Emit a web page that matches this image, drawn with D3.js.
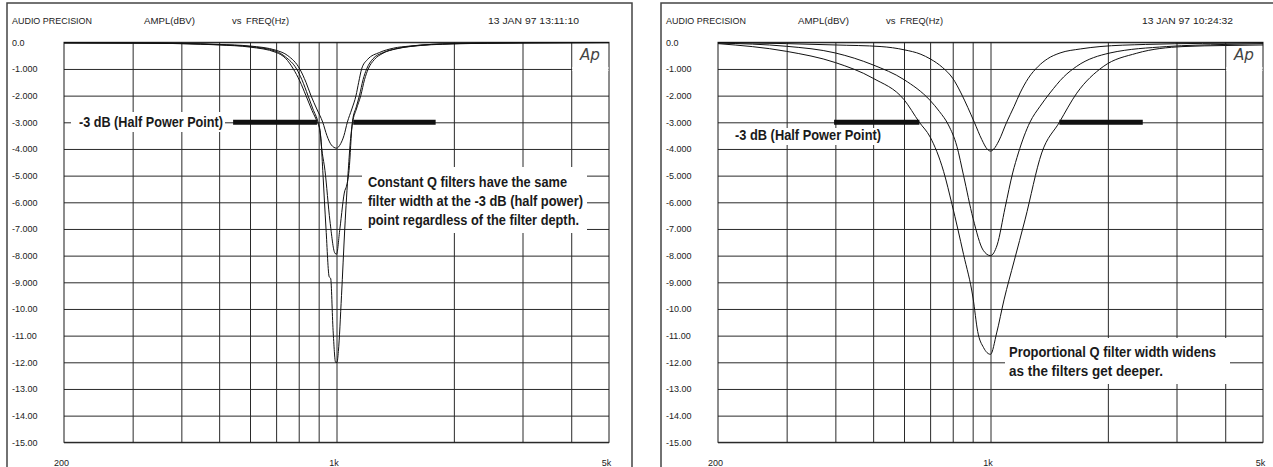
<!DOCTYPE html>
<html>
<head>
<meta charset="utf-8">
<script src="https://cdn.jsdelivr.net/npm/d3@7/dist/d3.min.js"></script>
<style>
  body { margin: 0; background: #fff; }
  svg { display: block; font-family: "Liberation Sans", Arial, sans-serif; }
</style>
</head>
<body>
<svg id="chart"></svg>
<script>
// axis ticks
const freqGrid = [300, 400, 500, 600, 700, 800, 900, 1000, 2000, 3000, 4000]
const freqLabels = [200, 1000, 5000]
const freqLabelText = ["200", "1k", "5k"]
const dbTicks = [0, -1, -2, -3, -4, -5, -6, -7, -8, -9, -10, -11, -12, -13, -14, -15]
const dbLabels = ["0.0", "-1.000", "-2.000", "-3.000", "-4.000", "-5.000", "-6.000", "-7.000",
  "-8.000", "-9.000", "-10.00", "-11.00", "-12.00", "-13.00", "-14.00", "-15.00"]

// constant Q sweeps [Hz, dBV]
const constQ4 = [[200,-0.02],[300,-0.02],[400,-0.04],[500,-0.08],[600,-0.14],[700,-0.3],[750,-0.5],[805,-1.0],[835,-1.5],[860,-2.0],[890,-2.5],[922,-3.0],[945,-3.5],[970,-3.85],[1000,-3.97],[1025,-3.8],[1045,-3.5],[1066,-3.0],[1095,-2.5],[1122,-2.0],[1140,-1.5],[1160,-1.0],[1200,-0.65],[1290,-0.38],[1400,-0.22],[1544,-0.14],[1990,-0.05],[3000,-0.02],[5000,-0.01]]
const constQ8 = [[200,-0.02],[300,-0.03],[400,-0.05],[500,-0.09],[600,-0.16],[700,-0.34],[740,-0.55],[790,-1.0],[815,-1.4],[845,-2.0],[870,-2.5],[897,-3.0],[907,-3.3],[915,-3.9],[934,-4.8],[962,-6.7],[990,-7.9],[1000,-7.95],[1020,-7.0],[1051,-5.55],[1058,-5.45],[1077,-4.8],[1098,-3.0],[1125,-2.4],[1145,-2.0],[1170,-1.4],[1195,-1.0],[1240,-0.62],[1310,-0.4],[1420,-0.24],[1544,-0.15],[1990,-0.05],[3000,-0.02],[5000,-0.01]]
const constQ12 = [[200,-0.02],[300,-0.03],[400,-0.05],[500,-0.1],[600,-0.18],[700,-0.38],[740,-0.6],[775,-1.0],[805,-1.45],[835,-2.0],[865,-2.55],[893,-3.0],[905,-3.25],[912,-3.6],[922,-4.8],[940,-7.0],[958,-8.8],[966,-8.85],[980,-10.8],[995,-12.0],[1003,-12.0],[1011,-11.6],[1030,-9.5],[1050,-7.0],[1072,-4.8],[1087,-3.6],[1100,-3.0],[1125,-2.5],[1154,-2.0],[1180,-1.4],[1206,-1.0],[1250,-0.65],[1316,-0.41],[1420,-0.25],[1544,-0.16],[1990,-0.06],[3000,-0.02],[5000,-0.01]]

// proportional Q sweeps [Hz, dBV]
const propQ4 = [[200,-0.01],[300,-0.05],[400,-0.1],[524,-0.16],[600,-0.28],[663,-0.45],[700,-0.62],[754,-0.95],[800,-1.35],[840,-1.9],[875,-2.45],[909,-3.0],[950,-3.65],[980,-4.0],[1000,-4.08],[1020,-4.0],[1050,-3.7],[1100,-3.0],[1150,-2.4],[1191,-1.9],[1250,-1.35],[1326,-0.9],[1400,-0.62],[1508,-0.4],[1700,-0.25],[1909,-0.16],[2500,-0.08],[3500,-0.04],[5000,-0.02]]
const propQ8 = [[200,-0.03],[300,-0.15],[400,-0.4],[500,-0.85],[600,-1.4],[700,-2.18],[740,-2.6],[780,-3.1],[820,-3.9],[853,-5.0],[902,-6.6],[958,-7.8],[1000,-8.0],[1040,-7.6],[1090,-6.2],[1140,-4.9],[1179,-4.15],[1262,-3.0],[1340,-2.4],[1421,-1.9],[1540,-1.3],[1664,-0.9],[2026,-0.4],[2831,-0.16],[4000,-0.08],[5000,-0.05]]
const propQ12 = [[200,-0.05],[300,-0.34],[400,-0.76],[500,-1.35],[600,-2.15],[657,-3.0],[700,-3.55],[758,-4.84],[797,-6.09],[853,-7.96],[902,-9.59],[927,-10.84],[960,-11.45],[1000,-11.7],[1037,-10.9],[1083,-9.66],[1150,-8.2],[1226,-6.66],[1353,-4.15],[1502,-3.0],[1664,-1.91],[1946,-0.91],[2372,-0.41],[3117,-0.16],[4000,-0.12],[5000,-0.1]]

// -3 dB half power markers [from Hz, to Hz]
const halfPowerConst = [[543, 891], [1104, 1796]]
const halfPowerProp = [[397, 657], [1502, 2458]]
const halfPowerDb = -3

class FilterPanel {
  plot = { left: 64, right: 609, top: 42.3, bottom: 442.3 }

  constructor(svg, offset, opts) {
    this.svg = svg
    this.offset = offset
    this.opts = opts
  }

  initialize() {
    this.container = this.svg.append("g")
      .attr("transform", `translate(${this.offset},0)`)
    this.x = d3.scaleLog().domain([200, 5000]).range([this.plot.left, this.plot.right])
    this.y = d3.scaleLinear().domain([0, -15]).range([this.plot.top, this.plot.bottom])

    // outer frame, cut off at the bottom
    this.container.append("path")
      .attr("d", "M7,470V3H632V470")
      .attr("fill", "none").attr("stroke", "#444").attr("stroke-width", 1.5)

    // header line: [text, x, width]
    const head = [["AUDIO PRECISION", 12, 80], ["AMPL(dBV)", 144, 51], ["vs", 232, 9.5],
      ["FREQ(Hz)", 246, 43], [this.opts.date, 488, 91]]
    this.container.append("g").selectAll("text")
      .data(head)
      .join("text")
      .attr("x", d => d[1]).attr("y", 24)
      .attr("font-size", 9).attr("fill", "#222")
      .attr("textLength", d => d[2]).attr("lengthAdjust", "spacingAndGlyphs")
      .text(d => d[0])
  }

  drawGrid() {
    const width = this.plot.right - this.plot.left
    const height = this.plot.bottom - this.plot.top

    const yAxis = this.container.append("g")
      .attr("transform", `translate(${this.plot.left},0)`)
      .call(d3.axisLeft(this.y).tickValues(dbTicks).tickSize(-width)
        .tickFormat((d, i) => dbLabels[i]))
    yAxis.select(".domain").remove()
    yAxis.selectAll("line").attr("stroke", "#2a2a2a")
    yAxis.selectAll("text")
      .attr("x", 12 - this.plot.left).attr("text-anchor", "start")
      .attr("font-size", 9).attr("fill", "#222").attr("font-family", "Liberation Sans, Arial, sans-serif")

    const xGrid = this.container.append("g")
      .attr("transform", `translate(0,${this.plot.bottom})`)
      .call(d3.axisBottom(this.x).tickValues(freqGrid).tickSize(-height).tickFormat(""))
    xGrid.select(".domain").remove()
    xGrid.selectAll("line").attr("stroke", "#2a2a2a")

    const xLab = this.container.append("g")
      .attr("transform", `translate(0,${this.plot.bottom})`)
      .call(d3.axisBottom(this.x).tickValues(freqLabels).tickSize(0)
        .tickFormat((d, i) => freqLabelText[i]))
    xLab.select(".domain").remove()
    xLab.selectAll("text")
      .attr("y", 24).attr("dx", -3).attr("dy", 0)
      .attr("font-size", 9).attr("fill", "#222").attr("font-family", "Liberation Sans, Arial, sans-serif")

    this.container.append("rect")
      .attr("x", this.plot.left).attr("y", this.plot.top)
      .attr("width", width).attr("height", height)
      .attr("fill", "none").attr("stroke", "#1a1a1a").attr("stroke-width", 1)

    // gap in the -1 line behind the logo
    this.container.append("rect")
      .attr("x", this.x(4000) + 1).attr("y", this.y(-1) - 2)
      .attr("width", this.x(5000) - this.x(4000) - 1.5).attr("height", 4)
      .attr("fill", "#fff")
  }

  drawNotes() {
    const o = this.opts
    const lbl = o.label
    this.container.append("rect")
      .attr("x", lbl.box[0]).attr("y", lbl.box[1]).attr("width", lbl.box[2]).attr("height", lbl.box[3])
      .attr("fill", "#fff")
    const nt = o.note
    this.container.append("rect")
      .attr("x", nt.box[0]).attr("y", nt.box[1]).attr("width", nt.box[2]).attr("height", nt.box[3])
      .attr("fill", "#fff")

    this.container.append("g").selectAll("line")
      .data(o.bars)
      .join("line")
      .attr("x1", d => this.x(d[0])).attr("x2", d => this.x(d[1]))
      .attr("y1", this.y(halfPowerDb)).attr("y2", this.y(halfPowerDb))
      .attr("stroke", "#111").attr("stroke-width", 5)

    const bold = this.container.append("g")
      .attr("font-family", "'Liberation Sans Narrow', 'Arial Narrow', 'Liberation Sans', Arial, sans-serif")
      .attr("font-weight", "bold").attr("fill", "#1a1a1a")
    bold.append("text")
      .attr("x", lbl.x).attr("y", lbl.y).attr("font-size", 15)
      .attr("textLength", lbl.w).attr("lengthAdjust", "spacingAndGlyphs")
      .text("-3 dB (Half Power Point)")
    bold.selectAll("text.note")
      .data(nt.lines)
      .join("text")
      .attr("class", "note")
      .attr("x", nt.x).attr("y", (d, i) => nt.y + i * nt.step)
      .attr("font-size", 14.5)
      .attr("textLength", d => d[1]).attr("lengthAdjust", "spacingAndGlyphs")
      .text(d => d[0])

    this.container.append("text")
      .attr("x", 580).attr("y", 60)
      .attr("font-family", "'DejaVu Sans', sans-serif").attr("font-style", "italic")
      .attr("font-weight", 200).attr("font-size", 16).attr("fill", "#444")
      .attr("textLength", 20).attr("lengthAdjust", "spacingAndGlyphs")
      .text("Ap")
  }

  drawCurves(series) {
    const line = d3.line()
      .x(d => this.x(d[0]))
      .y(d => this.y(d[1]))
      .curve(d3.curveMonotoneX)
    this.container.append("g").selectAll("path")
      .data(series)
      .join("path")
      .attr("d", line)
      .attr("fill", "none").attr("stroke", "#111").attr("stroke-width", 1)
  }
}

const svg = d3.select("#chart").attr("width", 1273).attr("height", 467)

const left = new FilterPanel(svg, 0, {
  date: "13 JAN 97  13:11:10",
  bars: halfPowerConst,
  label: { x: 79, y: 127, w: 144, box: [71, 112, 154, 20] },
  note: {
    x: 368, y: 187, step: 19, box: [362, 167, 225, 66],
    lines: [["Constant Q filters have the same", 199],
      ["filter width at the -3 dB (half power)", 215],
      ["point regardless of the filter depth.", 211]]
  }
})
left.initialize()
left.drawGrid()
left.drawNotes()
left.drawCurves([constQ4, constQ8, constQ12])

const right = new FilterPanel(svg, 654, {
  date: "13 JAN 97  10:24:32",
  bars: halfPowerProp,
  label: { x: 81, y: 140, w: 146, box: [79, 128, 150, 17] },
  note: {
    x: 355, y: 357, step: 18.5, box: [351, 338, 225, 46],
    lines: [["Proportional Q filter width widens", 207],
      ["as the filters get deeper.", 154]]
  }
})
right.initialize()
right.drawGrid()
right.drawNotes()
right.drawCurves([propQ4, propQ8, propQ12])
</script>
</body>
</html>
